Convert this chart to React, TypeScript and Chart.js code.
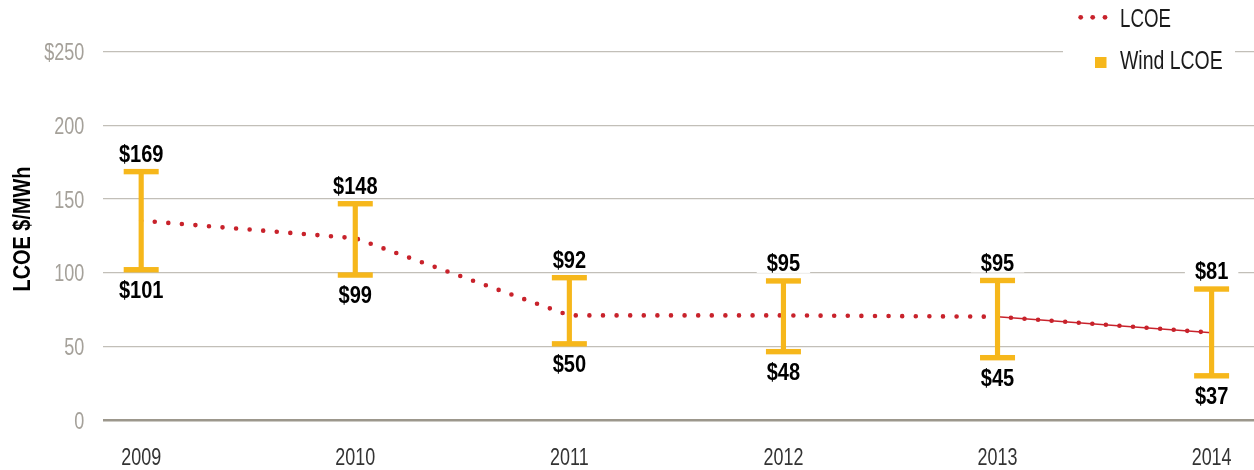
import React, { useEffect, useRef } from 'react';
import { Chart, registerables } from 'chart.js';

Chart.register(...registerables);

// ---- data ----
const years = [2009, 2010, 2011, 2012, 2013, 2014];
const lcoe = [135.3, 123.4, 71, 71, 70.1, 59.3];
const windHigh = [168.6, 146.8, 96.6, 94.4, 94.7, 88.9];
const windLow = [102, 98.4, 51.7, 46.4, 42.3, 30];
const highLabels = ['$169', '$148', '$92', '$95', '$95', '$81'];
const lowLabels = ['$101', '$99', '$50', '$48', '$45', '$37'];
const yTickValues = [0, 50, 100, 150, 200, 250];
const yTickLabels = ['0', '50', '100', '150', '200', '$250'];
const xTickLabels = ['2009', '2010', '2011', '2012', '2013', '2014'];
const seriesNames = ['LCOE', 'Wind LCOE'];
const axisTitle = 'LCOE $/MWh';

// ---- style ----
const FONT = '"Liberation Sans", Arial, sans-serif';
const RED = '#C8222B';
const GOLD = '#F6B71B';
const GRID = '#C2BFB8';
const ZERO = '#9C978C';

type Align = 'left' | 'center' | 'right';

// draws condensed text (horizontal squeeze) vertically centred on y (cap height)
function drawText(
  ctx: CanvasRenderingContext2D,
  text: string,
  x: number,
  y: number,
  size: number,
  bold: boolean,
  color: string,
  align: Align,
  sx: number,
  rotate = 0,
) {
  ctx.save();
  ctx.translate(x, y);
  if (rotate) ctx.rotate(rotate);
  ctx.scale(sx, 1);
  ctx.font = `${bold ? 'bold ' : ''}${size}px ${FONT}`;
  ctx.fillStyle = color;
  ctx.textAlign = align;
  ctx.textBaseline = 'alphabetic';
  ctx.fillText(text, 0, size * 0.716 / 2);
  ctx.restore();
}

function textWidth(ctx: CanvasRenderingContext2D, text: string, size: number, bold: boolean, sx: number) {
  ctx.save();
  ctx.font = `${bold ? 'bold ' : ''}${size}px ${FONT}`;
  const w = ctx.measureText(text).width * sx;
  ctx.restore();
  return w;
}

const overlayPlugin = {
  id: 'overlay',
  afterDatasetsDraw(chart: any) {
    const ctx = chart.ctx as CanvasRenderingContext2D;
    const xs = chart.scales.x;
    const ys = chart.scales.y;
    ctx.save();
    // caps of the wind range bars
    ctx.fillStyle = GOLD;
    years.forEach((yr, i) => {
      const x = xs.getPixelForValue(yr);
      [windHigh[i], windLow[i]].forEach((v) => {
        const y = ys.getPixelForValue(v);
        ctx.fillRect(x - 17.5, y - 2.7, 35, 5.4);
      });
    });
    // value labels
    const LS = 23.3;
    const LSX = 0.86;
    const drawLabel = (text: string, x: number, y: number) => {
      const w = textWidth(ctx, text, LS, true, LSX);
      ctx.fillStyle = '#ffffff';
      ctx.fillRect(x - w / 2 - 10, y - 10, w + 20, 20);
      drawText(ctx, text, x, y, LS, true, '#000000', 'center', LSX);
    };
    years.forEach((yr, i) => {
      const x = xs.getPixelForValue(yr);
      drawLabel(highLabels[i], x, ys.getPixelForValue(windHigh[i]) - 18);
      drawLabel(lowLabels[i], x, ys.getPixelForValue(windLow[i]) + 20);
    });
    // y tick labels
    yTickValues.forEach((v, i) => {
      drawText(ctx, yTickLabels[i], ys.right - 19, ys.getPixelForValue(v), 24, false, '#A5A19A', 'right', 0.75);
    });
    // x tick labels
    years.forEach((yr, i) => {
      drawText(ctx, xTickLabels[i], xs.getPixelForValue(yr), ys.bottom + 36.7, 23.3, false, '#333333', 'center', 0.77);
    });
    // y axis title
    drawText(ctx, axisTitle, 21.7, 229, 23.7, true, '#000000', 'center', 0.84, -Math.PI / 2);
    // legend
    ctx.fillStyle = '#ffffff';
    ctx.fillRect(1063, 0, 172, 78);
    ctx.fillStyle = RED;
    [1080.7, 1092.7, 1105].forEach((cx) => {
      ctx.beginPath();
      ctx.arc(cx, 17.3, 2.4, 0, Math.PI * 2);
      ctx.fill();
    });
    ctx.fillStyle = GOLD;
    ctx.fillRect(1095, 57, 11.5, 11);
    drawText(ctx, seriesNames[0], 1120, 17.5, 25.6, false, '#1a1a1a', 'left', 0.73);
    drawText(ctx, seriesNames[1], 1120, 59.5, 25.6, false, '#1a1a1a', 'left', 0.76);
    ctx.restore();
  },
};

export default function App() {
  const ref = useRef<HTMLCanvasElement | null>(null);
  useEffect(() => {
    document.body.style.margin = '0';
    document.body.style.overflow = 'hidden';
    if (!ref.current) return;
    const chart = new Chart(ref.current, {
      type: 'line',
      data: {
        datasets: [
          {
            type: 'bar',
            label: seriesNames[1],
            data: years.map((x, i) => ({ x, y: [windLow[i], windHigh[i]] })) as any,
            backgroundColor: GOLD,
            barThickness: 4.5,
            grouped: false,
            order: 0,
          } as any,
          {
            type: 'line',
            label: seriesNames[0],
            data: years.map((x, i) => ({ x, y: lcoe[i] })),
            borderColor: RED,
            borderWidth: 4.6,
            borderDash: [0, 13.6],
            borderCapStyle: 'round',
            pointRadius: 0,
            tension: 0,
            order: 1,
          },
          {
            type: 'line',
            label: seriesNames[0] + ' trend',
            data: years.map((x, i) => ({ x, y: i >= 4 ? lcoe[i] : null })),
            borderColor: RED,
            borderWidth: 1.5,
            pointRadius: 0,
            spanGaps: false,
            tension: 0,
            order: 2,
          },
        ],
      },
      options: {
        responsive: false,
        animation: false,
        devicePixelRatio: 1,
        layout: { padding: { top: 51.7, right: 0, left: 0, bottom: 0 } },
        plugins: { legend: { display: false }, tooltip: { enabled: false } },
        scales: {
          x: {
            type: 'linear',
            offset: false,
            min: 2008.823,
            max: 2014.198,
            afterBuildTicks: (s: any) => {
              s.ticks = years.map((v) => ({ value: v }));
            },
            afterFit: (s: any) => {
              s.height = 50;
            },
            grid: { display: false, drawTicks: false },
            border: { display: false },
            ticks: { display: false },
          },
          y: {
            min: 0,
            max: 250,
            afterBuildTicks: (s: any) => {
              s.ticks = yTickValues.map((v) => ({ value: v }));
            },
            afterFit: (s: any) => {
              s.width = 103.3;
            },
            border: { display: false },
            grid: {
              drawTicks: false,
              color: (c: any) => (c.tick && c.tick.value === 0 ? ZERO : GRID),
              lineWidth: (c: any) => (c.tick && c.tick.value === 0 ? 2.5 : 1.2),
            },
            ticks: { display: false },
          },
        },
      },
      plugins: [overlayPlugin],
    } as any);
    return () => chart.destroy();
  }, []);
  return (
    <div style={{ position: 'fixed', left: 0, top: 0, width: 1254, height: 470, background: '#fff' }}>
      <canvas ref={ref} width={1254} height={470} style={{ display: 'block' }} />
    </div>
  );
}
